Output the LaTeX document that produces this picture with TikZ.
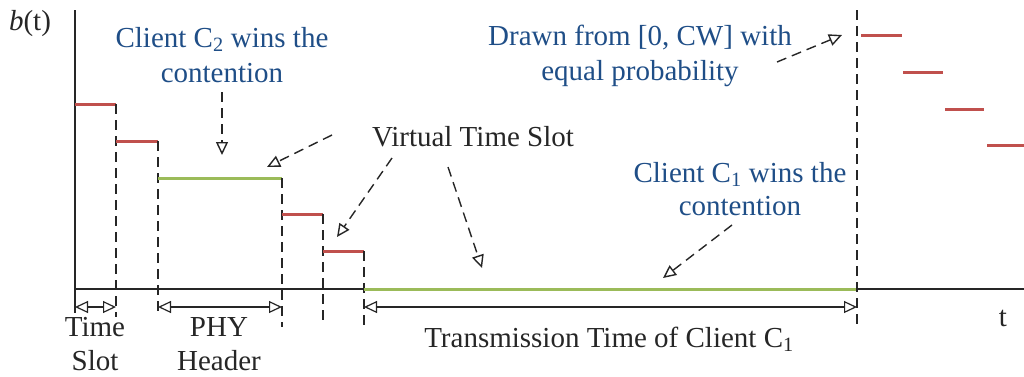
\documentclass[tikz,border=0pt]{standalone}
\usepackage{fontspec}
\setmainfont{Liberation Serif}
\usetikzlibrary{arrows.meta}
\definecolor{stepred}{RGB}{192,80,77}
\definecolor{stepgreen}{RGB}{155,187,89}
\definecolor{noteblue}{RGB}{31,78,135}
\begin{document}
\begin{tikzpicture}[x=1pt,y=-1pt,
  axisline/.style={line width=1.6pt,black!85},
  redlevel/.style={line width=3pt,stepred},
  greenlevel/.style={line width=3pt,stepgreen},
  guide/.style={line width=1.4pt,black!85,dash pattern=on 10pt off 6pt},
  note/.style={line width=1.4pt,black!85,dash pattern=on 10pt off 6pt,
    -{Triangle[open,length=13pt,width=12pt]}},
  span/.style={line width=1.2pt,black!85,
    {Triangle[open,length=13pt,width=12pt]}-{Triangle[open,length=13pt,width=12pt]}},
  lbl/.style={font=\fontsize{29}{35}\selectfont,inner sep=0pt,anchor=base,text=black!85},
  bluelbl/.style={lbl,text=noteblue}]
\useasboundingbox (0,0) rectangle (1024,376);

% axes
\coordinate (ytop) at (75,10);
\coordinate (ybot) at (75,313);
\coordinate (o) at (75,289);
\coordinate (xend) at (1024,289);
\draw[axisline] (ytop) -- (ybot);
\draw[axisline] (o) -- (xend);

% backoff counter levels and slot boundaries
\draw[redlevel] (75,104) -- (116,104);
\draw[guide] (116,104) -- (116,317);
\draw[redlevel] (116,141) -- (158,141);
\draw[guide] (158,141) -- (158,316);
\draw[greenlevel] (158,178) -- (282,178);
\draw[guide] (282,178) -- (282,327);
\draw[redlevel] (282,214) -- (323,214);
\draw[guide] (323,214) -- (323,322);
\draw[redlevel] (323,251) -- (364,251);
\draw[guide] (364,251) -- (364,327);
\draw[greenlevel] (364,289) -- (857,289);
\draw[guide] (857,10) -- (857,327);
\draw[redlevel] (861,35) -- (902,35);
\draw[redlevel] (903,72) -- (943,72);
\draw[redlevel] (945,109) -- (984,109);
\draw[redlevel] (987,145) -- (1024,145);

% duration spans
\coordinate (ts1) at (75,307);  \coordinate (ts2) at (116,307);
\coordinate (ph1) at (158,307); \coordinate (ph2) at (282,307);
\coordinate (tx1) at (364,307); \coordinate (tx2) at (857,307);
\draw[span] (ts1) -- (ts2);
\draw[span] (ph1) -- (ph2);
\draw[span] (tx1) -- (tx2);

% labels
\node[lbl] (bt) at (30,30) {\textit{b}(t)};
\node[lbl] (tt) at (1003,326) {t};
\node[lbl] (ts-a) at (95,336) {Time};
\node[lbl] (ts-b) at (95,370) {Slot};
\node[lbl] (ph-a) at (219,336) {PHY};
\node[lbl] (ph-b) at (219,370) {Header};
\node[lbl] (txlbl) at (609,347) {Transmission Time of Client C\textsubscript{1}};
\node[lbl] (vts) at (473,146) {Virtual Time Slot};
\node[bluelbl] (c2-a) at (222,47) {Client C\textsubscript{2} wins the};
\node[bluelbl] (c2-b) at (222,82) {contention};
\node[bluelbl] (dr-a) at (640,45) {Drawn from [0, CW] with};
\node[bluelbl] (dr-b) at (640,80) {equal probability};
\node[bluelbl] (c1-a) at (740,182) {Client C\textsubscript{1} wins the};
\node[bluelbl] (c1-b) at (740,215) {contention};

% annotation pointers
\coordinate (c2s) at (222,92);  \coordinate (c2e) at (222,155);
\coordinate (v1s) at (332,135); \coordinate (v1e) at (267,167);
\coordinate (v2s) at (392,158); \coordinate (v2e) at (337,237);
\coordinate (v3s) at (448,167); \coordinate (v3e) at (482,268);
\coordinate (drs) at (777,62);  \coordinate (dre) at (842,35);
\coordinate (c1s) at (732,225); \coordinate (c1e) at (663,278);
\draw[note] (c2s) -- (c2e);
\draw[note] (v1s) -- (v1e);
\draw[note] (v2s) -- (v2e);
\draw[note] (v3s) -- (v3e);
\draw[note] (drs) -- (dre);
\draw[note] (c1s) -- (c1e);
\end{tikzpicture}
\end{document}
